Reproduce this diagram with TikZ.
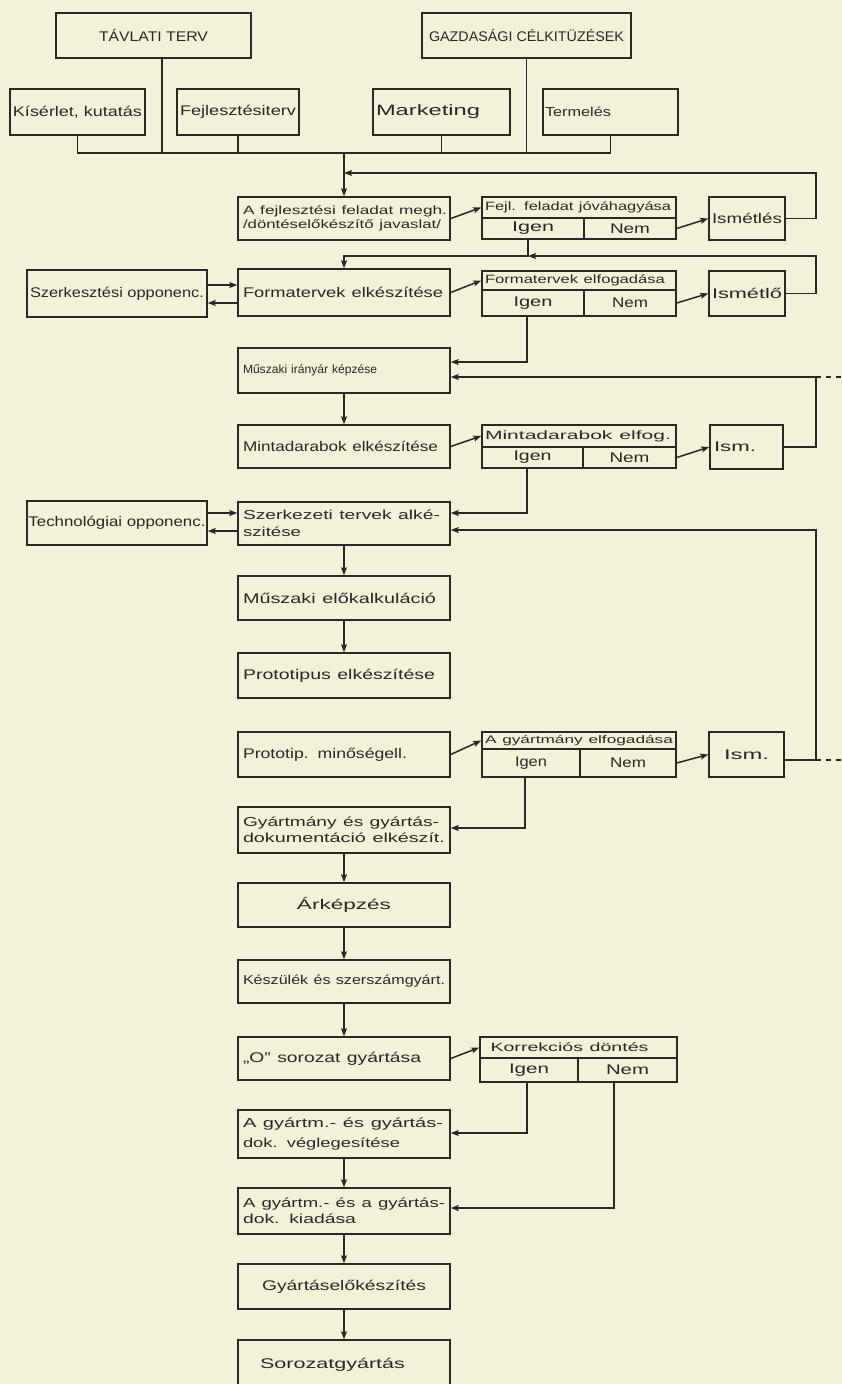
\documentclass[tikz,border=0pt]{standalone}
\usepackage{fontspec}
\setmainfont{Liberation Sans}
\usetikzlibrary{arrows.meta,calc}
\definecolor{paper}{RGB}{244,241,217}
\definecolor{ink}{RGB}{42,40,36}
\newcommand\tw[2]{\resizebox{#1pt}{\height}{#2}}
\newcommand\fs[2]{\fontsize{#1}{#2}\selectfont}
\begin{document}
\begin{tikzpicture}[x=1pt,y=-1pt,
 bx/.style={draw=ink, line width=1.5pt, rectangle, inner sep=0pt, text=ink, font=\fs{14}{16}},
 mbx/.style={bx, minimum width=212, text width=202pt, align=left},
 cbx/.style={bx, align=center},
 dh/.style={bx, minimum width=194, text width=188pt, align=left, font=\fs{12}{14}},
 ln/.style={draw=ink, line width=1.5pt},
 arr/.style={ln, -{Stealth[length=8pt,width=6pt,inset=1.5pt]}},
 dsh/.style={ln, dash pattern=on 5pt off 5pt}]
\fill[paper] (0,0) rectangle (842,1384);
\useasboundingbox (0,0) rectangle (842,1384);

% top rows
\node[bx, minimum width=195, minimum height=45, font=\fs{14}{16}] (tav) at (153.5,35.5) {\tw{109}{TÁVLATI TERV}};
\node[bx, minimum width=209, minimum height=45, font=\fs{14}{16}] (gazd) at (526.5,35.5) {\tw{195}{GAZDASÁGI CÉLKITÜZÉSEK}};
\node[bx, minimum width=135, minimum height=46] (kis) at (77.5,112) {\tw{129}{Kísérlet, kutatás}};
\node[bx, minimum width=122, minimum height=46] (fejt) at (238,112) {\tw{116}{Fejlesztésiterv}};
\node[bx, minimum width=137, minimum height=46, text width=131pt, align=left, font=\fs{15}{17}] (mark) at (441.5,112) {\tw{104}{Marketing}};
\node[bx, minimum width=135, minimum height=46, text width=131pt, align=left, font=\fs{13}{15}] (term) at (610.5,112) {\tw{66}{Termelés}};

% main column
\node[mbx, minimum height=43, font=\fs{12}{14}] (A) at (344,218.5) {\tw{204}{A fejlesztési feladat megh.}\\ \tw{198}{/döntéselőkészítő javaslat/}};
\node[mbx, minimum height=47] (form) at (344,292.5) {\tw{200}{Formatervek elkészítése}};
\node[mbx, minimum height=45, font=\fs{12}{14}] (musz) at (344,370.5) {\tw{134}{Műszaki irányár képzése}};
\node[mbx, minimum height=43] (mint) at (344,446.5) {\tw{195}{Mintadarabok elkészítése}};
\node[mbx, minimum height=43, font=\fs{13}{17}] (szk) at (344,523.5) {\tw{197}{Szerkezeti tervek alké-}\\ \tw{58}{szitése}};
\node[mbx, minimum height=44] (elok) at (344,598) {\tw{193}{Műszaki előkalkuláció}};
\node[mbx, minimum height=45] (prot) at (344,675.5) {\tw{192}{Prototipus elkészítése}};
\node[mbx, minimum height=45] (mino) at (344,754.5) {\tw{164}{Prototip. minőségell.}};
\node[mbx, minimum height=46, font=\fs{13}{16}] (gydok) at (344,830) {\tw{196}{Gyártmány és gyártás-}\\ \tw{202}{dokumentáció elkészít.}};
\node[cbx, minimum width=212, minimum height=44] (ark) at (344,905) {\tw{94}{Árképzés}};
\node[mbx, minimum height=43, font=\fs{13}{15}] (kesz) at (344,981.5) {\tw{202}{Készülék és szerszámgyárt.}};
\node[mbx, minimum height=43] (ozero) at (344,1058.5) {\tw{178}{„O” sorozat gyártása}};
\node[mbx, minimum height=48, font=\fs{13}{20}] (vegl) at (344,1134) {\tw{200}{A gyártm.- és gyártás-}\\ \tw{157}{dok. véglegesítése}};
\node[mbx, minimum height=46, font=\fs{13}{16}] (kiad) at (344,1211) {\tw{202}{A gyártm.- és a gyártás-}\\ \tw{113}{dok. kiadása}};
\node[cbx, minimum width=212, minimum height=45] (gyel) at (344,1286.5) {\tw{164}{Gyártáselőkészítés}};
\node[mbx, minimum height=50] (soro) at (344,1365) {\hspace*{17pt}\tw{145}{Sorozatgyártás}};

% side boxes
\node[cbx, minimum width=180, minimum height=47] (szerk) at (117,293.5) {\tw{174}{Szerkesztési opponenc.}};
\node[cbx, minimum width=180, minimum height=44] (tech) at (117,523) {\tw{177}{Technológiai opponenc.}};

% repeat boxes
\node[cbx, minimum width=76, minimum height=43] (ism1) at (747,218.5) {\tw{70}{Ismétlés}};
\node[cbx, minimum width=76, minimum height=45] (ism2) at (747,293.5) {\tw{70}{Ismétlő}};
\node[bx, minimum width=73, minimum height=44, text width=65pt, align=left] (ism3) at (746.5,447) {\tw{42}{Ism.}};
\node[cbx, minimum width=75, minimum height=45] (ism4) at (746.5,754.5) {\tw{45}{Ism.}};

% decision tables
\node[dh, minimum height=21] (d1h) at (579,207.5) {\tw{186}{Fejl. feladat jóváhagyása}};
\node[cbx, minimum width=102, minimum height=21] (d1y) at (533,228.5) {\tw{42}{Igen}};
\node[cbx, minimum width=92, minimum height=21] (d1n) at (630,228.5) {\tw{40}{Nem}};

\node[dh, minimum height=19] (d2h) at (579,280.5) {\tw{180}{Formatervek elfogadása}};
\node[cbx, minimum width=102, minimum height=26] (d2y) at (533,303) {\tw{39}{Igen}};
\node[cbx, minimum width=92, minimum height=26] (d2n) at (630,303) {\tw{36}{Nem}};

\node[dh, minimum height=22] (d3h) at (579,436) {\tw{186}{Mintadarabok elfog.}};
\node[cbx, minimum width=101, minimum height=21] (d3y) at (532.5,457.5) {\tw{38}{Igen}};
\node[cbx, minimum width=93, minimum height=21] (d3n) at (629.5,457.5) {\tw{40}{Nem}};

\node[dh, minimum height=17, font=\fs{11}{13}] (d4h) at (579,740.5) {\tw{188}{A gyártmány elfogadása}};
\node[cbx, minimum width=98, minimum height=28] (d4y) at (531,763) {\tw{32}{Igen}};
\node[cbx, minimum width=96, minimum height=28] (d4n) at (628,763) {\tw{36}{Nem}};

\node[dh, minimum width=197, minimum height=21] (d5h) at (578.5,1047.5) {\hspace*{6pt}\tw{158}{Korrekciós döntés}};
\node[cbx, minimum width=98, minimum height=24] (d5y) at (529,1070) {\tw{40}{Igen}};
\node[cbx, minimum width=99, minimum height=24] (d5n) at (627.5,1070) {\tw{43}{Nem}};

% junction coordinates
\coordinate (busY) at (0,153);
\coordinate (tavx) at (162,0);
\coordinate (r1) at (816,173);
\coordinate (r2) at (816,256);
\coordinate (x528) at (528,0);
\coordinate (ya) at (0,285);
\coordinate (yb) at (0,303);
\coordinate (x527) at (527,0);
\coordinate (y362) at (0,362);
\coordinate (r3) at (816,377);
\coordinate (e3) at (842,377);
\coordinate (y513) at (0,513);
\coordinate (y531) at (0,531);
\coordinate (r4) at (816,530);
\coordinate (r5) at (816,760);
\coordinate (e5) at (842,760);
\coordinate (x525) at (525,0);
\coordinate (y828) at (0,828);
\coordinate (y1133) at (0,1133);
\coordinate (x614) at (614,0);
\coordinate (y1208) at (0,1208);

% connectors
\draw[ln] (kis.south) |- (term.south |- busY) -- (term.south);
\draw[ln] (fejt.south) -- (fejt.south |- busY);
\draw[ln] (mark.south) -- (mark.south |- busY);
\draw[ln] (tav.south -| tavx) -- (tavx |- busY);
\draw[ln] (gazd.south) -- (gazd.south |- busY);
\draw[arr] (A.north |- busY) -- (A.north);
\draw[arr] (ism1.east) -| (r1) -- (A.north |- r1);
\draw[arr] (A.east) -- (d1h.west);
\draw[arr] (d1n.east) -- (ism1.west);
\draw[arr] (d1y.south -| x528) -- (x528 |- r2) -- (form.north |- r2) -- (form.north);
\draw[arr] (ism2.east) -| (r2) -- (x528 |- r2);
\draw[arr] (szerk.east |- ya) -- (form.west |- ya);
\draw[arr] (form.west |- yb) -- (szerk.east |- yb);
\draw[arr] (form.east) -- (d2h.west);
\draw[arr] (d2n.east) -- (ism2.west);
\draw[arr] (d2y.south -| x527) |- (musz.east |- y362);
\draw[arr] (ism3.east) -| (r3) -- (musz.east |- r3);
\draw[dsh] (r3) -- (e3);
\draw[arr] (musz.south) -- (mint.north);
\draw[arr] (mint.east) -- (d3h.west);
\draw[arr] (d3n.east) -- (ism3.west);
\draw[arr] (d3y.south -| x527) |- (szk.east |- y513);
\draw[arr] (tech.east |- y513) -- (szk.west |- y513);
\draw[arr] (szk.west |- y531) -- (tech.east |- y531);
\draw[arr] (ism4.east |- r5) -- (r5) -- (r4) -- (szk.east |- r4);
\draw[dsh] (r5) -- (e5);
\draw[arr] (szk.south) -- (elok.north);
\draw[arr] (elok.south) -- (prot.north);
\draw[arr] (mino.east) -- (d4h.west);
\draw[arr] (d4n.east) -- (ism4.west);
\draw[arr] (d4y.south -| x525) |- (gydok.east |- y828);
\draw[arr] (gydok.south) -- (ark.north);
\draw[arr] (ark.south) -- (kesz.north);
\draw[arr] (kesz.south) -- (ozero.north);
\draw[arr] (ozero.east) -- (d5h.west);
\draw[arr] (d5y.south -| x527) |- (vegl.east |- y1133);
\draw[arr] (d5n.south -| x614) |- (kiad.east |- y1208);
\draw[arr] (vegl.south) -- (kiad.north);
\draw[arr] (kiad.south) -- (gyel.north);
\draw[arr] (gyel.south) -- (soro.north);
\end{tikzpicture}
\end{document}
